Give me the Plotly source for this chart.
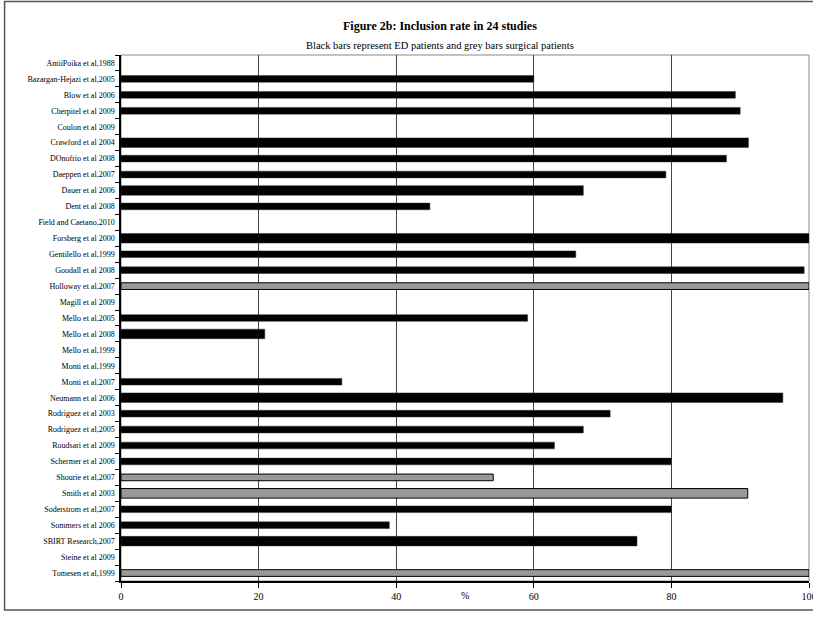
import plotly.graph_objects as go

STUDIES = [
    "AntiiPoika et al,1988",
    "Bazargan-Hejazi et al,2005",
    "Blow et al 2006",
    "Cherpitel et al 2009",
    "Coulon et al 2009",
    "Crawford et al 2004",
    "DOnofrio et al 2008",
    "Daeppen et al,2007",
    "Dauer et al 2006",
    "Dent et al 2008",
    "Field and Caetano,2010",
    "Forsberg et al 2000",
    "Gentilello et al,1999",
    "Goodall et al 2008",
    "Holloway et al,2007",
    "Magill et al 2009",
    "Mello et al,2005",
    "Mello et al 2008",
    "Mello et al,1999",
    "Monti et al,1999",
    "Monti et al,2007",
    "Neumann et al 2006",
    "Rodriguez et al 2003",
    "Rodriguez et al,2005",
    "Roudsari et al 2009",
    "Schermer et al 2006",
    "Shourie et al,2007",
    "Smith et al 2003",
    "Soderstrom et al,2007",
    "Sommers et al 2006",
    "SBIRT Research,2007",
    "Steine et al 2009",
    "Tomesen et al,1999",
]

INCLUSION_RATE = [
    None, 60.0, 89.3, 90.0, None, 91.2, 88.0, 79.2, 67.2, 44.9,
    None, 100.0, 66.1, 99.3, 100.0, None, 59.1, 20.9, None, None,
    32.1, 96.2, 71.1, 67.2, 63.0, 80.0, 54.1, 91.1, 80.0, 39.0,
    75.0, None, 100.0,
]

SETTING = [
    "ED", "ED", "ED", "ED", "ED", "ED", "ED", "ED", "ED", "ED",
    "ED", "ED", "ED", "ED", "Surgical", "ED", "ED", "ED", "ED", "ED",
    "ED", "ED", "ED", "ED", "ED", "ED", "Surgical", "Surgical", "ED", "ED",
    "ED", "ED", "Surgical",
]

X_TICKS = [0, 20, 40, 60, 80, 100]

# rows drawn with the thicker bar in the original
THICK = {"Crawford et al 2004", "Dauer et al 2006", "Forsberg et al 2000",
         "Mello et al 2008", "Neumann et al 2006", "Smith et al 2003",
         "SBIRT Research,2007"}

SERIF = "Liberation Serif, Times New Roman, serif"


def series(setting):
    ys, xs, ws = [], [], []
    for name, val, s in zip(STUDIES, INCLUSION_RATE, SETTING):
        if s == setting and val is not None:
            ys.append(name)
            xs.append(val)
            ws.append(0.6 if name in THICK else 0.42)
    return ys, xs, ws


fig = go.Figure()
ed_y, ed_x, ed_w = series("ED")
fig.add_trace(go.Bar(
    y=ed_y, x=ed_x, width=ed_w, orientation="h", name="ED patients",
    marker={"color": "#000000", "line": {"color": "#333333", "width": 0.5}},
))
su_y, su_x, su_w = series("Surgical")
fig.add_trace(go.Bar(
    y=su_y, x=su_x, width=su_w, orientation="h", name="Surgical patients",
    marker={"color": "#999999", "line": {"color": "#000000", "width": 1}},
))

L, R, T, B = 120.5, 4, 55, 36
W, H = 813, 617
PW, PH = W - L - R, H - T - B


def px_x(x):
    return (x - L) / PW


def px_y(y):
    return (H - B - y) / PH


fig.update_layout(
    width=W,
    height=H,
    margin={"l": L, "r": R, "t": T, "b": B},
    paper_bgcolor="white",
    plot_bgcolor="white",
    showlegend=False,
    barmode="overlay",
    font={"family": SERIF, "color": "#000000"},
    annotations=[
        {"text": "<b>Figure 2b: Inclusion rate in 24 studies</b>", "xref": "paper",
         "yref": "paper", "x": px_x(440), "y": px_y(17), "showarrow": False,
         "font": {"size": 12, "family": SERIF}},
        {"text": "Black bars represent ED patients and grey bars surgical patients",
         "xref": "paper", "yref": "paper", "x": px_x(440), "y": px_y(38),
         "showarrow": False, "font": {"size": 10.5, "family": SERIF}},
        {"text": "%", "xref": "paper", "yref": "paper", "x": px_x(465),
         "y": px_y(603), "showarrow": False, "font": {"size": 10, "family": SERIF}},
    ],
    shapes=[
        {"type": "rect", "xref": "paper", "yref": "paper", "x0": 0, "x1": 1,
         "y0": 0, "y1": 1, "line": {"color": "#888888", "width": 1}, "layer": "below"},
        {"type": "rect", "xref": "paper", "yref": "paper", "x0": px_x(4),
         "x1": px_x(816), "y0": px_y(610), "y1": px_y(1.5),
         "line": {"color": "#555555", "width": 1.5}},
    ],
)
fig.update_xaxes(
    range=[0, 100],
    tickvals=X_TICKS,
    showgrid=True,
    gridcolor="#444444",
    gridwidth=1,
    zeroline=False,
    showline=True,
    linecolor="#000000",
    linewidth=1.5,
    ticks="outside",
    ticklen=5,
    tickcolor="#000000",
    automargin=False,
    ticklabeloverflow="allow",
    tickfont={"size": 10, "family": SERIF},
)
fig.update_yaxes(
    type="category",
    categoryorder="array",
    categoryarray=STUDIES,
    tickvals=STUDIES,
    range=[len(STUDIES) - 0.5, -0.5],
    showgrid=False,
    zeroline=False,
    showline=True,
    linecolor="#000000",
    linewidth=1.5,
    ticks="outside",
    tickson="boundaries",
    ticklen=4,
    tickcolor="#000000",
    ticklabelstandoff=3,
    automargin=False,
    tickfont={"size": 8, "family": SERIF},
)

# the page's default 8px body margin would push the figure off the window
fig.write_html(
    "out.html",
    config={"displayModeBar": False},
    post_script="document.body.style.margin = '0';",
)
